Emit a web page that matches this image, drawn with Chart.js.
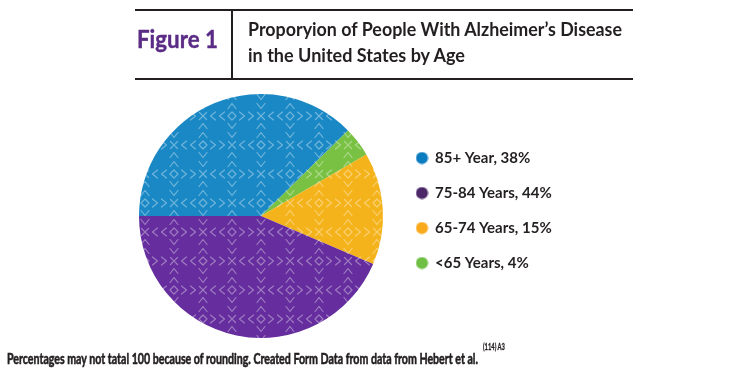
<!DOCTYPE html>
<html>
<head>
<meta charset="utf-8">
<script src="https://cdn.jsdelivr.net/npm/chart.js@4/dist/chart.umd.min.js"></script>
<style>
  html, body { margin: 0; padding: 0; background: #fff; }
  body { width: 735px; height: 385px; position: relative; overflow: hidden; font-family: Lato, "Open Sans", sans-serif; }
  #chart { position: absolute; left: 0; top: 0; }
  .rule { position: absolute; background: #231f20; }
  .txt { position: absolute; white-space: nowrap; transform-origin: 0 0; }
</style>
</head>
<body>
<canvas id="chart" width="735" height="385"></canvas>
<div class="rule" style="left:135px;top:9px;width:498px;height:2px"></div>
<div class="rule" style="left:135px;top:78px;width:498px;height:2px"></div>
<div class="rule" style="left:231px;top:10px;width:2px;height:69px"></div>
<script>
// ---- data ----
const labels = ['85+ Year', '<65 Years', '65-74 Years', '75-84 Years'];
const values = [38, 4, 15, 44];
const legendOrder = [0, 3, 2, 1];
const figureLabel = 'Figure 1';
const titleLines = ['Proporyion of People With Alzheimer\u2019s Disease', 'in the United States by Age'];
const footnote = 'Percentages may not tatal 100 because of rounding. Created Form Data from data from Hebert et al.';
const footnoteRef = '(114) A3';

// ---- styles ----
const pieColors = ['#1a88c5', '#79c143', '#f5b31b', '#652d9d'];
const legendColors = ['#0b7cc0', '#6fbf44', '#f8aa1c', '#4c2767'];

function placeText(text, x, baseline, font, color, targetWidth, stroke) {
  const el = document.createElement('div');
  el.className = 'txt';
  el.style.font = font;
  el.style.color = color;
  el.style.left = x + 'px';
  el.style.top = '0px';
  if (stroke) el.style.webkitTextStroke = stroke + 'px ' + color;
  el.textContent = text;
  const m = document.createElement('span');
  m.style.display = 'inline-block'; m.style.width = '0'; m.style.height = '0'; m.style.verticalAlign = 'baseline';
  el.appendChild(m);
  document.body.appendChild(el);
  const b = m.getBoundingClientRect().top - el.getBoundingClientRect().top;
  el.style.top = (baseline - b) + 'px';
  if (targetWidth) {
    const w = el.getBoundingClientRect().width;
    el.style.transform = 'scaleX(' + (targetWidth / w) + ')';
  }
  return el;
}

placeText(figureLabel, 137, 48, 'bold 24px Lato', '#5b2c86', 81, 0.4);
placeText(titleLines[0], 248, 36, 'bold 18px Lato', '#231f20', 374);
placeText(titleLines[1], 248, 61.5, 'bold 18px Lato', '#231f20', 217);
placeText(footnote, 7, 363.5, 'bold 15.5px Lato', '#231f20', 471, 0.6);
placeText(footnoteRef, 483, 350, 'bold 9px Lato', '#231f20', 22, 0.3);

function makePattern(color) {
  const T = 58, h = 29;
  const c = document.createElement('canvas');
  c.width = T; c.height = T;
  const g = c.getContext('2d');
  g.fillStyle = color; g.fillRect(0, 0, T, T);
  g.strokeStyle = 'rgba(255,255,255,0.38)';
  g.lineWidth = 1.2; g.lineCap = 'round'; g.lineJoin = 'round';
  for (const ox of [-T, 0, T]) for (const oy of [-T, 0, T]) {
    for (const [dx, dy] of [[0, 0], [h, h]]) {
      const x = dx + ox, y = dy + oy;
      g.beginPath();
      g.moveTo(x, y - 4); g.lineTo(x + 4, y); g.lineTo(x, y + 4); g.lineTo(x - 4, y); g.closePath();
      g.stroke();
      for (const [ux, uy] of [[1, 0], [-1, 0], [0, 1], [0, -1]]) {
        for (const d of [10, 19]) {
          const cx = x + ux * d, cy = y + uy * d, px = -uy, py = ux;
          g.beginPath();
          g.moveTo(cx - ux * 2.5 + px * 4, cy - uy * 2.5 + py * 4);
          g.lineTo(cx + ux * 2.5, cy + uy * 2.5);
          g.lineTo(cx - ux * 2.5 - px * 4, cy - uy * 2.5 - py * 4);
          g.stroke();
        }
      }
    }
    for (const [dx, dy] of [[h, 0], [0, h]]) {
      const x = dx + ox, y = dy + oy;
      g.beginPath();
      g.moveTo(x - 3.5, y - 3.5); g.lineTo(x + 3.5, y + 3.5);
      g.moveTo(x + 3.5, y - 3.5); g.lineTo(x - 3.5, y + 3.5);
      g.stroke();
    }
  }
  return g.createPattern(c, 'repeat');
}

function makeDot(color) {
  const c = document.createElement('canvas');
  c.width = 13; c.height = 13;
  const g = c.getContext('2d');
  g.fillStyle = color;
  g.beginPath(); g.arc(6.5, 6.5, 6, 0, Math.PI * 2); g.fill();
  return c;
}

const legendFont = { family: 'Lato', weight: 'bold', size: 15 };
const legendPad = 20, dotBox = 11;
const legendText = i => labels[i] + ', ' + values[i] + '%';

const mctx = document.createElement('canvas').getContext('2d');
mctx.font = 'bold 15px Lato';
const maxTextW = Math.max(...labels.map((_, i) => mctx.measureText(legendText(i)).width));
const legendW = legendPad + dotBox + legendFont.size / 2 + maxTextW + 10;
const legendLeft = 396.5;
const pieCx = 261;
const padL = pieCx - (legendLeft - pieCx);
const padR = 735 - legendLeft - legendW;

const dots = legendColors.map(makeDot);

new Chart(document.getElementById('chart'), {
  type: 'pie',
  data: {
    labels: labels,
    datasets: [{
      data: values,
      backgroundColor: pieColors.map(makePattern),
      borderWidth: 0,
      hoverOffset: 0,
      offset: 0
    }]
  },
  options: {
    responsive: false,
    animation: false,
    rotation: -90,
    layout: { padding: { left: padL, right: padR, top: 94, bottom: 47 } },
    plugins: {
      tooltip: { enabled: false },
      legend: {
        position: 'right',
        align: 'start',
        title: { display: true, text: ' ', font: { size: 10 }, padding: { top: 0, bottom: 24.5 } },
        labels: {
          usePointStyle: true,
          pointStyleWidth: dotBox,
          padding: legendPad,
          font: legendFont,
          color: '#231f20',
          generateLabels: () => legendOrder.map(i => ({
            text: legendText(i),
            fillStyle: legendColors[i],
            strokeStyle: legendColors[i],
            lineWidth: 0,
            pointStyle: dots[i],
            fontColor: '#231f20',
            hidden: false,
            index: i
          }))
        }
      }
    }
  }
});
</script>
</body>
</html>
